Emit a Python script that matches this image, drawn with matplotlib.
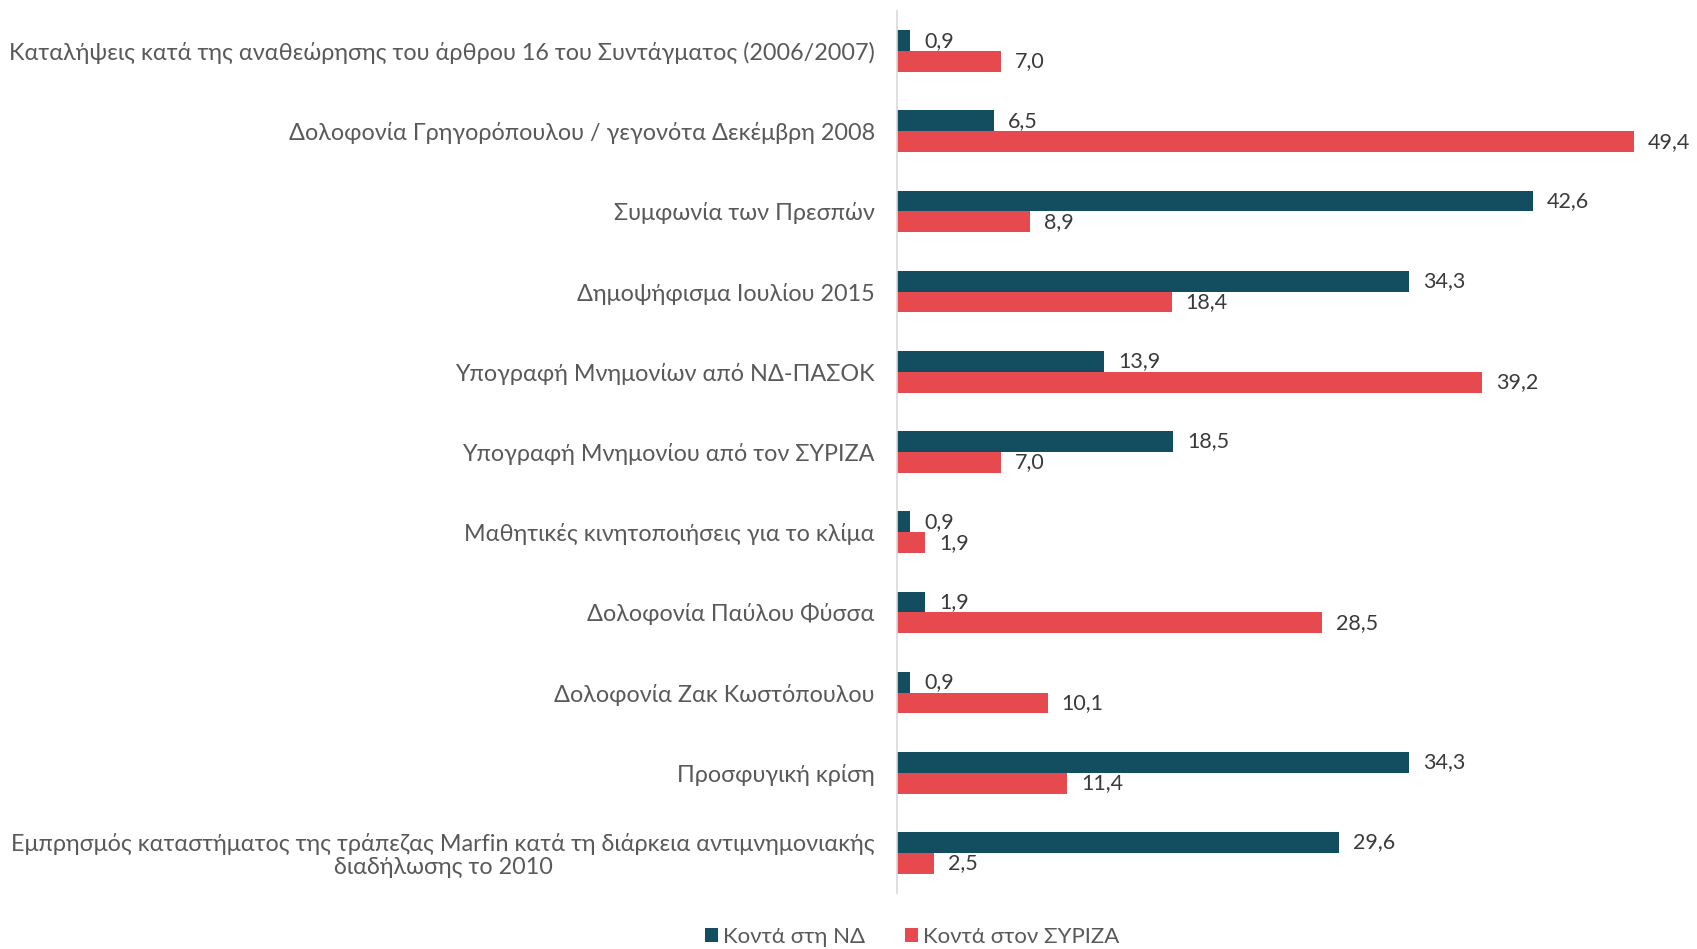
#! /usr/bin/env python3

import numpy as np
from matplotlib import pyplot as plt

plt.rcParams['font.family'] = ['Lato', 'DejaVu Sans']

categories = [
    'Καταλήψεις κατά της αναθεώρησης του άρθρου 16 του Συντάγματος (2006/2007)',
    'Δολοφονία Γρηγορόπουλου / γεγονότα Δεκέμβρη 2008',
    'Συμφωνία των Πρεσπών',
    'Δημοψήφισμα Ιουλίου 2015',
    'Υπογραφή Μνημονίων από ΝΔ-ΠΑΣΟΚ',
    'Υπογραφή Μνημονίου από τον ΣΥΡΙΖΑ',
    'Μαθητικές κινητοποιήσεις για το κλίμα',
    'Δολοφονία Παύλου Φύσσα',
    'Δολοφονία Ζακ Κωστόπουλου',
    'Προσφυγική κρίση',
    'Εμπρησμός καταστήματος της τράπεζας Marfin κατά τη διάρκεια αντιμνημονιακής\nδιαδήλωσης το 2010',
]
nd = [0.9, 6.5, 42.6, 34.3, 13.9, 18.5, 0.9, 1.9, 0.9, 34.3, 29.6]
syriza = [7.0, 49.4, 8.9, 18.4, 39.2, 7.0, 1.9, 28.5, 10.1, 11.4, 2.5]
series_names = ['Κοντά στη ΝΔ', 'Κοντά στον ΣΥΡΙΖΑ']

dark = '#124E5F'
red = '#E64A4E'
label_col = '#595959'
value_col = '#3A3A3A'

fig = plt.figure(figsize=(16.97, 9.49), dpi=100)
ax = fig.add_axes([897 / 1697, 56 / 949, 791 / 1697, 882 / 949])

y = np.arange(len(categories))
h = 0.26
b1 = ax.barh(y - h / 2, nd, height=h, color=dark, label=series_names[0])
b2 = ax.barh(y + h / 2, syriza, height=h, color=red, label=series_names[1])

for bars, vals in ((b1, nd), (b2, syriza)):
    for bar, v in zip(bars, vals):
        ax.annotate(f'{v:.1f}'.replace('.', ','),
                    (bar.get_width(), bar.get_y() + bar.get_height() / 2),
                    xytext=(10, 0), textcoords='offset points',
                    va='center', ha='left', fontsize=15.5, color=value_col)

ax.set_xlim(0, 53)
ax.set_ylim(len(categories) - 0.5, -0.5)
ax.set_yticks(y)
ax.set_yticklabels(categories, fontsize=16.8, color=label_col, ha='right',
                   multialignment='center', linespacing=1.1)
ax.tick_params(axis='y', length=0, pad=16)
ax.set_xticks([])
for s in ('top', 'right', 'bottom'):
    ax.spines[s].set_visible(False)
ax.spines['left'].set_color('#D9D9D9')
ax.spines['left'].set_linewidth(1.2)

fig.legend(loc='center', bbox_to_anchor=(912 / 1697, 1 - 937 / 949), ncol=2,
           frameon=False, fontsize=16, handlelength=0.6, handleheight=0.6,
           handletextpad=0.2, columnspacing=1.8, labelcolor=label_col)

plt.savefig('out.png')
